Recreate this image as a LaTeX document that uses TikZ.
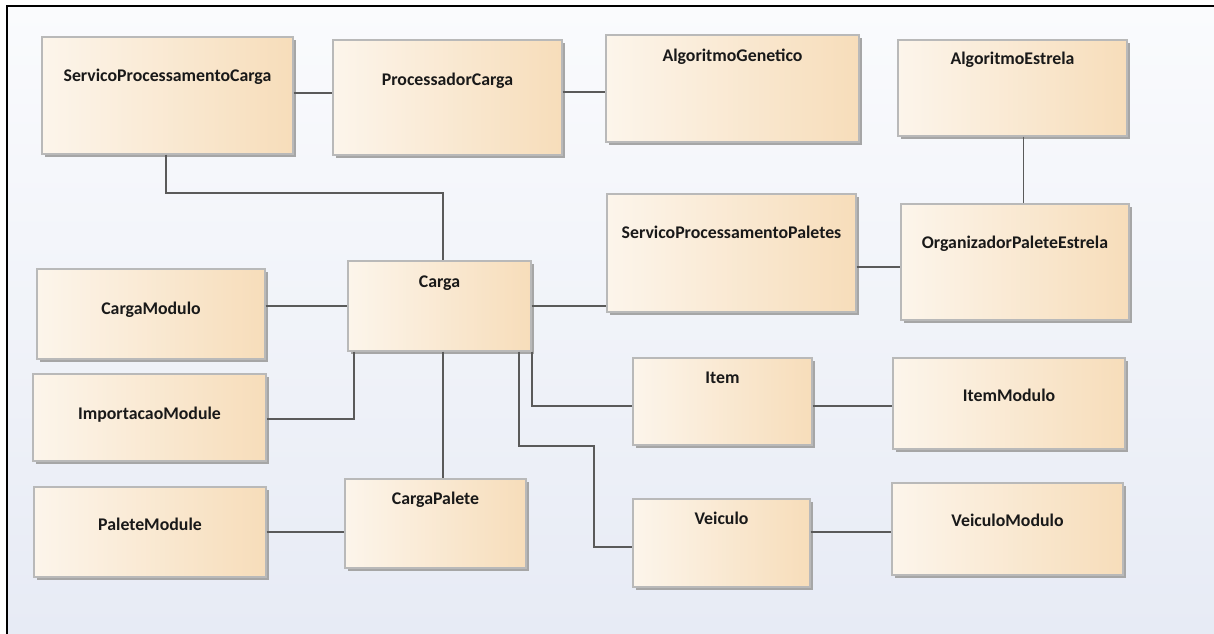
\documentclass[tikz,border=0pt]{standalone}
\usepackage{fontspec}
\setmainfont{Carlito}
\usetikzlibrary{shadows}
\definecolor{boxleft}{HTML}{FCF5EB}
\definecolor{boxright}{HTML}{F7DDBA}
\definecolor{boxedge}{HTML}{B9B9B9}
\definecolor{shadowgray}{HTML}{A6A6A6}
\definecolor{wire}{HTML}{5A5A5A}
\definecolor{bgtop}{HTML}{FAFBFD}
\definecolor{bgbottom}{HTML}{E7EBF5}
\tikzset{
  classbox/.style={rectangle, inner sep=0pt, draw=boxedge, line width=0.6pt,
    left color=boxleft, right color=boxright,
    general shadow={fill=shadowgray, shadow xshift=1.5pt, shadow yshift=-1.5pt}},
  classname/.style={inner sep=0pt, anchor=mid, font=\fontsize{8.9}{10}\selectfont\bfseries, text=black!90},
  link/.style={draw=wire, line width=0.7pt},
}
% box: name, x1, y1, x2, y2, label y, label text (pixel units, y downwards)
\newcommand\umlbox[7]{%
  \pgfmathsetmacro\ubw{(#4-#2)*0.5}%
  \pgfmathsetmacro\ubh{(#5-#3)*0.5}%
  \node[classbox, minimum width=\ubw pt, minimum height=\ubh pt] (#1) at ({(#2+#4)/2},{(#3+#5)/2}) {};
  \node[classname] (#1-t) at ({(#2+#4)/2},#6) {#7};
}
\begin{document}
\begin{tikzpicture}[x=0.5pt, y=-0.5pt]
\useasboundingbox (0,0) rectangle (1214,633);
% canvas
\shade[top color=bgtop, bottom color=bgbottom] (7,6) rectangle (1214,633);
\draw[black, line width=1pt] (7,640) -- (7,6) -- (1220,6);

% classes
\umlbox{spc}{42}{37}{293}{154}{77}{ServicoProcessamentoCarga}
\umlbox{pc}{333}{40}{562}{155}{81}{ProcessadorCarga}
\umlbox{ag}{606}{35}{859}{142}{57}{AlgoritmoGenetico}
\umlbox{ae}{898}{40}{1127}{136}{60}{AlgoritmoEstrela}
\umlbox{ope}{901}{204}{1129}{320}{244}{OrganizadorPaleteEstrela}
\umlbox{spp}{607}{194}{856}{312}{234}{ServicoProcessamentoPaletes}
\umlbox{carga}{348}{261}{531}{351}{283}{Carga}
\umlbox{cm}{37}{269}{265}{359}{310}{CargaModulo}
\umlbox{im}{33}{374}{266}{461}{415}{ImportacaoModule}
\umlbox{pm}{34}{487}{266}{577}{526}{PaleteModule}
\umlbox{cp}{345}{479}{526}{568}{500}{CargaPalete}
\umlbox{item}{633}{358}{812}{445}{379}{Item}
\umlbox{veic}{633}{499}{810}{587}{520}{Veiculo}
\umlbox{itemm}{893}{358}{1125}{449}{397}{ItemModulo}
\umlbox{vm}{892}{483}{1123}{575}{522}{VeiculoModulo}

% associations
\draw[link] (spc.east |- 0,93) -- (pc.west |- 0,93);
\draw[link] (pc.east |- 0,92) -- (ag.west |- 0,92);
\draw[link] (166,0 |- spc.south) -- (166,193) -| (443,0 |- carga.north);
\draw[link] (1023.5,0 |- ae.south) -- (1023.5,0 |- ope.north);
\draw[link] (spp.east |- 0,267) -- (ope.west |- 0,267);
\draw[link] (carga.east |- 0,306) -- (spp.west |- 0,306);
\draw[link] (cm.east |- 0,306) -- (carga.west |- 0,306);
\draw[link] (354,0 |- carga.south) |- (im.east |- 0,419);
\draw[link] (443,0 |- carga.south) -- (443,0 |- cp.north);
\draw[link] (532,0 |- carga.south) |- (item.west |- 0,406);
\draw[link] (519,0 |- carga.south) |- (594,446) |- (veic.west |- 0,547);
\draw[link] (item.east |- 0,406) -- (itemm.west |- 0,406);
\draw[link] (veic.east |- 0,532) -- (vm.west |- 0,532);
\draw[link] (pm.east |- 0,532) -- (cp.west |- 0,532);
\end{tikzpicture}
\end{document}
